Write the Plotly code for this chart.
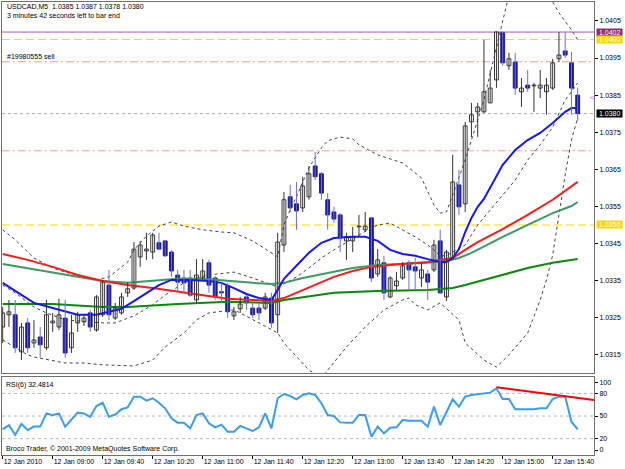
import plotly.graph_objects as go

# ---------------- data ----------------
tick_bars = [0, 8, 16, 24, 32, 40, 48, 56, 64, 72, 80, 88]
tick_labels = ["12 Jan 2010", "12 Jan 09:00", "12 Jan 09:40", "12 Jan 10:20", "12 Jan 11:00",
               "12 Jan 11:40", "12 Jan 12:20", "12 Jan 13:00", "12 Jan 13:40", "12 Jan 14:20",
               "12 Jan 15:00", "12 Jan 15:40"]

opens = [1.03225, 1.03258, 1.03258, 1.03158, 1.03236, 1.03182, 1.03198, 1.03169, 1.03236, 1.03225,
         1.03249, 1.03169, 1.03236, 1.03239, 1.03263, 1.03217, 1.03258, 1.03338, 1.03249, 1.03263,
         1.03317, 1.03330, 1.03414, 1.03430, 1.03427, 1.03452, 1.03457, 1.03427, 1.03365, 1.03357,
         1.03357, 1.03298, 1.03357, 1.03398, 1.03357, 1.03320, 1.03336, 1.03255, 1.03274, 1.03306,
         1.03276, 1.03276, 1.03276, 1.03303, 1.03258, 1.03446, 1.03576, 1.03557, 1.03546, 1.03576,
         1.03659, 1.03638, 1.03568, 1.03535, 1.03527, 1.03457, 1.03457, 1.03495, 1.03487, 1.03519,
         1.03368, 1.03398, 1.03306, 1.03336, 1.03357, 1.03398, 1.03387, 1.03357, 1.03368, 1.03379,
         1.03457, 1.03306, 1.03411, 1.03608, 1.03557, 1.03778, 1.03805, 1.03805, 1.03829, 1.03891,
         1.04018, 1.03929, 1.03939, 1.03859, 1.03877, 1.03875, 1.03869, 1.03859, 1.03869, 1.03948,
         1.03969, 1.03937, 1.03850]
highs = [1.03279, 1.03298, 1.03298, 1.03236, 1.03249, 1.03244, 1.03225, 1.03298, 1.03263, 1.03301,
         1.03298, 1.03258, 1.03266, 1.03258, 1.03271, 1.03311, 1.03352, 1.03379, 1.03290, 1.03317,
         1.03346, 1.03454, 1.03457, 1.03479, 1.03479, 1.03479, 1.03460, 1.03433, 1.03379, 1.03379,
         1.03379, 1.03408, 1.03408, 1.03406, 1.03362, 1.03344, 1.03344, 1.03279, 1.03306, 1.03311,
         1.03290, 1.03290, 1.03317, 1.03317, 1.03479, 1.03589, 1.03608, 1.03616, 1.03630, 1.03659,
         1.03697, 1.03643, 1.03586, 1.03549, 1.03532, 1.03479, 1.03495, 1.03527, 1.03535, 1.03522,
         1.03435, 1.03417, 1.03362, 1.03373, 1.03400, 1.03406, 1.03411, 1.03398, 1.03379, 1.03460,
         1.03487, 1.03433, 1.03689, 1.03648, 1.03778, 1.03829, 1.03829, 1.03999, 1.03918, 1.04022,
         1.04022, 1.03964, 1.03964, 1.03896, 1.03918, 1.03883, 1.03918, 1.03896, 1.03948, 1.04020,
         1.04018, 1.03966, 1.03870]
lows = [1.03182, 1.03225, 1.03155, 1.03136, 1.03155, 1.03169, 1.03142, 1.03163, 1.03212, 1.03217,
        1.03142, 1.03155, 1.03212, 1.03228, 1.03212, 1.03212, 1.03252, 1.03244, 1.03244, 1.03258,
        1.03306, 1.03325, 1.03387, 1.03406, 1.03408, 1.03433, 1.03414, 1.03360, 1.03320, 1.03320,
        1.03306, 1.03290, 1.03352, 1.03317, 1.03298, 1.03290, 1.03249, 1.03244, 1.03263, 1.03271,
        1.03249, 1.03244, 1.03271, 1.03223, 1.03209, 1.03427, 1.03535, 1.03487, 1.03535, 1.03568,
        1.03621, 1.03568, 1.03487, 1.03506, 1.03427, 1.03406, 1.03427, 1.03468, 1.03481, 1.03346,
        1.03360, 1.03298, 1.03303, 1.03325, 1.03352, 1.03325, 1.03325, 1.03333, 1.03298, 1.03373,
        1.03314, 1.03295, 1.03406, 1.03527, 1.03535, 1.03737, 1.03737, 1.03802, 1.03829, 1.03869,
        1.03929, 1.03918, 1.03851, 1.03818, 1.03859, 1.03805, 1.03842, 1.03797, 1.03864, 1.03939,
        1.03950, 1.03797, 1.03780]
closes = [1.03263, 1.03266, 1.03169, 1.03225, 1.03169, 1.03190, 1.03177, 1.03258, 1.03241, 1.03258,
          1.03155, 1.03209, 1.03258, 1.03249, 1.03225, 1.03306, 1.03346, 1.03258, 1.03276, 1.03306,
          1.03328, 1.03435, 1.03446, 1.03435, 1.03473, 1.03435, 1.03417, 1.03376, 1.03346, 1.03344,
          1.03311, 1.03365, 1.03376, 1.03338, 1.03306, 1.03317, 1.03266, 1.03266, 1.03287, 1.03290,
          1.03258, 1.03263, 1.03306, 1.03236, 1.03454, 1.03568, 1.03546, 1.03538, 1.03605, 1.03638,
          1.03630, 1.03586, 1.03527, 1.03516, 1.03465, 1.03468, 1.03468, 1.03497, 1.03497, 1.03357,
          1.03406, 1.03317, 1.03357, 1.03349, 1.03390, 1.03379, 1.03376, 1.03379, 1.03346, 1.03446,
          1.03317, 1.03427, 1.03616, 1.03549, 1.03767, 1.03797, 1.03818, 1.03859, 1.03869, 1.04020,
          1.03937, 1.03948, 1.03869, 1.03869, 1.03869, 1.03877, 1.03877, 1.03877, 1.03937, 1.03958,
          1.03958, 1.03869, 1.03800]

# moving averages (bar index, price)
blue_k = [0, 2, 5, 8, 10, 12, 15, 17, 19, 21, 23, 25, 27, 30, 33, 35, 37, 39, 41, 43, 44, 45, 47, 49, 51,
          53, 56, 58, 60, 62, 64, 66, 68, 70, 71, 72, 73, 74, 75, 76, 77, 80, 82, 84, 86, 88, 90, 91, 92]
blue_v = [1.03344, 1.03322, 1.03290, 1.03276, 1.03266, 1.03258, 1.03258, 1.03266, 1.03274, 1.03295,
          1.03317, 1.03338, 1.03352, 1.03352, 1.03349, 1.03344, 1.03330, 1.03314, 1.03303, 1.03298,
          1.03325, 1.03355, 1.03390, 1.03425, 1.03452, 1.03465, 1.03468, 1.03468, 1.03457, 1.03433,
          1.03422, 1.03417, 1.03408, 1.03400, 1.03400, 1.03411, 1.03435, 1.03481, 1.03519, 1.03549,
          1.03570, 1.03662, 1.03702, 1.03729, 1.03748, 1.03775, 1.03805, 1.03815, 1.03815]
red_k = [0, 4, 8, 12, 16, 20, 24, 28, 32, 36, 40, 43, 45, 48, 51, 53, 56, 59, 62, 65, 68, 71, 72, 74, 76,
         80, 84, 88, 91, 92]
red_v = [1.03422, 1.03406, 1.03387, 1.03365, 1.03349, 1.03338, 1.03330, 1.03320, 1.03311, 1.03301,
         1.03298, 1.03295, 1.03303, 1.03325, 1.03346, 1.03360, 1.03376, 1.03387, 1.03392, 1.03395,
         1.03400, 1.03408, 1.03411, 1.03433, 1.03454, 1.03489, 1.03527, 1.03568, 1.03603, 1.03616]
sg_k = [0, 4, 8, 12, 16, 20, 24, 28, 32, 36, 40, 43, 45, 48, 52, 56, 60, 64, 68, 71, 73, 75, 78, 80, 84,
        88, 91, 92]
sg_v = [1.03395, 1.03384, 1.03371, 1.03360, 1.03349, 1.03344, 1.03349, 1.03355, 1.03355, 1.03349,
        1.03344, 1.03341, 1.03344, 1.03357, 1.03371, 1.03384, 1.03392, 1.03395, 1.03398, 1.03403,
        1.03411, 1.03425, 1.03452, 1.03468, 1.03500, 1.03532, 1.03551, 1.03562]
dg_k = [0, 8, 16, 20, 28, 36, 43, 45, 53, 60, 68, 72, 74, 80, 84, 88, 92]
dg_v = [1.03287, 1.03287, 1.03279, 1.03279, 1.03287, 1.03293, 1.03290, 1.03298, 1.03317, 1.03322,
        1.03325, 1.03330, 1.03338, 1.03365, 1.03384, 1.03398, 1.03408]

# Bollinger bands (bar index, price)
bbu_k = [0, 2, 5, 8, 10, 13, 15, 17, 20, 21, 23, 25, 27, 29, 32, 35, 37, 40, 42, 44, 45, 46, 47, 49,
         51, 52, 54, 56, 57, 60, 62, 64, 67, 69, 70, 71, 72, 73, 74, 77, 79, 81, 84, 86, 88, 89, 91, 92]
bbu_v = [1.03487, 1.03460, 1.03411, 1.03384, 1.03373, 1.03360, 1.03352, 1.03360, 1.03400, 1.03433,
         1.03470, 1.03497, 1.03508, 1.03497, 1.03487, 1.03481, 1.03479, 1.03457, 1.03435, 1.03414,
         1.03500, 1.03541, 1.03576, 1.03654, 1.03708, 1.03727, 1.03737, 1.03732, 1.03716, 1.03689,
         1.03678, 1.03667, 1.03627, 1.03554, 1.03532, 1.03535, 1.03581, 1.03627, 1.03675, 1.03837,
         1.03980, 1.04120, 1.04147, 1.04147, 1.04101, 1.04072, 1.04026, 1.03999]
bbm_k = [0, 2, 5, 7, 10, 13, 16, 18, 21, 24, 26, 29, 31, 33, 37, 40, 42, 44, 45, 47, 49, 51, 53, 55,
         57, 59, 60, 62, 64, 66, 68, 69, 70, 71, 72, 74, 76, 78, 80, 82, 84, 86, 88, 90, 91, 92]
bbm_v = [1.03338, 1.03317, 1.03279, 1.03263, 1.03244, 1.03239, 1.03236, 1.03236, 1.03255, 1.03285,
         1.03311, 1.03344, 1.03357, 1.03365, 1.03373, 1.03357, 1.03344, 1.03333, 1.03341, 1.03360,
         1.03384, 1.03411, 1.03433, 1.03454, 1.03473, 1.03492, 1.03500, 1.03505, 1.03487, 1.03468,
         1.03446, 1.03433, 1.03417, 1.03417, 1.03427, 1.03446, 1.03500, 1.03541, 1.03581, 1.03621,
         1.03675, 1.03716, 1.03764, 1.03837, 1.03859, 1.03883]
bbl_k = [0, 2, 4, 5, 10, 13, 16, 21, 24, 26, 29, 31, 33, 37, 38, 41, 44, 45, 47, 49, 51, 52, 55, 58,
         61, 64, 65, 66, 68, 70, 73, 74, 77, 79, 81, 84, 86, 87, 88, 89, 90, 91, 92]
bbl_v = [1.03190, 1.03171, 1.03150, 1.03144, 1.03128, 1.03128, 1.03123, 1.03120, 1.03136, 1.03171,
         1.03209, 1.03244, 1.03263, 1.03271, 1.03263, 1.03236, 1.03209, 1.03182, 1.03144, 1.03109,
         1.03088, 1.03109, 1.03171, 1.03225, 1.03271, 1.03298, 1.03303, 1.03285, 1.03271, 1.03290,
         1.03244, 1.03182, 1.03136, 1.03117, 1.03150, 1.03209, 1.03298, 1.03352, 1.03419, 1.03527,
         1.03635, 1.03729, 1.03789]

# RSI(6)
rsi = [32.4, 38, 25, 39.5, 31.5, 36, 36, 53.5, 51, 53.5,
       36, 45.6, 54.5, 53.5, 49, 63.3, 67.7, 49, 52, 59,
       61.5, 75.7, 75.7, 70.4, 73.5, 67.7, 60.2, 47, 41.2, 41.2,
       33.7, 51.4, 53.5, 40.3, 35, 38.6, 29.3, 29.3, 36.8, 33.7,
       30.2, 35, 53.5, 33.7, 73.5, 79.2, 76.5, 72.1, 77.9, 80.1,
       77.9, 66.8, 51.4, 50, 41.6, 41.2, 41.2, 51.4, 51.4, 22.7,
       35.9, 27.1, 34.6, 35, 44.7, 43.8, 43.8, 43.8, 35.9, 62.4,
       38.2, 55.8, 72.1, 62.4, 75.7, 77.9, 78.8, 80.1, 81, 86.7,
       72.6, 72.6, 58.9, 58.9, 58.9, 58.9, 60.2, 60.2, 72.6, 75.7,
       75.7, 42.5, 32.48]
rsi_levels = [20, 50, 80]
rsi_trend_k = [79, 94.6]
rsi_trend_v = [88, 71.3]

# horizontal price levels
level_high = 1.0402
level_gold = [1.0400, 1.0350]
level_order = [1.0394, 1.0370]
bid_price = 1.0380

price_ticks = [1.0315, 1.0325, 1.0335, 1.0345, 1.0355, 1.0365, 1.0375, 1.0385, 1.0395, 1.0405]
price_tick_text = ["1.0315", "1.0325", "1.0335", "1.0345", "1.0355", "1.0365", "1.0375",
                   "1.0385", "1.0395", "1.0405"]
rsi_tick_vals = [5, 20, 50, 80, 94]
rsi_tick_text = ["0", "20", "50", "80", "100"]

# ---------------- figure ----------------
FONT = "Liberation Sans"
bars = list(range(len(opens)))
bull = [k for k in bars if closes[k] >= opens[k]]
bear = [k for k in bars if closes[k] < opens[k]]


def wick_xy(idx):
    xs, ys = [], []
    for k in idx:
        xs += [k, k, None]
        ys += [lows[k], highs[k], None]
    return xs, ys


fig = go.Figure()

# Bollinger dotted lines
for kk, vv in ((bbu_k, bbu_v), (bbm_k, bbm_v), (bbl_k, bbl_v)):
    fig.add_trace(go.Scatter(x=kk, y=vv, mode="lines", xaxis="x", yaxis="y",
                             line=dict(color="#444444", width=1, dash="dot"), hoverinfo="skip"))

# moving averages
fig.add_trace(go.Scatter(x=dg_k, y=dg_v, mode="lines", line=dict(color="#0a8a0a", width=2)))
fig.add_trace(go.Scatter(x=sg_k, y=sg_v, mode="lines", line=dict(color="#3c9a62", width=2)))
fig.add_trace(go.Scatter(x=red_k, y=red_v, mode="lines", line=dict(color="#ff1a1a", width=2)))
fig.add_trace(go.Scatter(x=blue_k, y=blue_v, mode="lines", line=dict(color="#1515ff", width=2)))

# wicks
wx, wy = wick_xy(bull)
fig.add_trace(go.Scatter(x=wx, y=wy, mode="lines", line=dict(color="#333333", width=1)))
wx, wy = wick_xy(bear)
fig.add_trace(go.Scatter(x=wx, y=wy, mode="lines", line=dict(color="#6f6fd8", width=1)))

# bodies
fig.add_trace(go.Bar(x=bull, base=[opens[k] for k in bull],
                     y=[closes[k] - opens[k] for k in bull], width=0.62,
                     marker=dict(color="#ffffff", line=dict(color="#3a3a3a", width=1))))
fig.add_trace(go.Bar(x=bear, base=[opens[k] for k in bear],
                     y=[closes[k] - opens[k] for k in bear], width=0.62,
                     marker=dict(color="#1c1c96", line=dict(color="#1c1c96", width=1))))

# RSI
fig.add_trace(go.Scatter(x=bars, y=rsi, mode="lines", xaxis="x2", yaxis="y2",
                         line=dict(color="#3b9cf0", width=2)))
fig.add_trace(go.Scatter(x=rsi_trend_k, y=rsi_trend_v, mode="lines", xaxis="x2", yaxis="y2",
                         line=dict(color="#ff0000", width=2)))

shapes = []
XD = [2 / 625, 594 / 625]
shapes.append(dict(type="line", xref="paper", x0=XD[0], x1=XD[1], yref="y",
                   y0=level_high, y1=level_high, line=dict(color="#a05ab0", width=1)))
for lv in level_gold:
    shapes.append(dict(type="line", xref="paper", x0=XD[0], x1=XD[1], yref="y", y0=lv, y1=lv,
                       line=dict(color="#ffd700", width=1, dash="8px,4px")))
for lv in level_order:
    shapes.append(dict(type="line", xref="paper", x0=XD[0], x1=XD[1], yref="y", y0=lv, y1=lv,
                       line=dict(color="#ff9f80", width=1, dash="8px,3px,2px,3px")))
shapes.append(dict(type="line", xref="paper", x0=XD[0], x1=XD[1], yref="y", y0=bid_price,
                   y1=bid_price, line=dict(color="#a8a8a8", width=1, dash="dot")))
for lv in rsi_levels:
    shapes.append(dict(type="line", xref="paper", x0=XD[0], x1=XD[1], yref="y2", y0=lv, y1=lv,
                       line=dict(color="#b8b8b8", width=1, dash="dot")))
# draw levels below data
for s in shapes:
    s["layer"] = "below"

f = dict(family=FONT, size=7, color="#000000")
ann = []
ann.append(dict(xref="paper", yref="paper", x=5 / 625, y=1 - 6.7 / 469, xanchor="left",
                yanchor="middle", showarrow=False, font=f,
                text="USDCAD,M5\u00a0\u00a01.0385 1.0387 1.0378 1.0380"))
ann.append(dict(xref="paper", yref="paper", x=5 / 625, y=1 - 15.7 / 469, xanchor="left",
                yanchor="middle", showarrow=False, font=f,
                text="3 minutes 42 seconds left to bar end"))
ann.append(dict(xref="paper", yref="y", x=5 / 625, y=level_order[0], xanchor="left",
                yanchor="bottom", showarrow=False, font=f, text="#19980555 sell"))
ann.append(dict(xref="paper", yref="paper", x=4 / 625, y=1 - 385 / 469, xanchor="left",
                yanchor="middle", showarrow=False, font=f, text="RSI(6) 32.4814"))
ann.append(dict(xref="paper", yref="paper", x=4 / 625, y=1 - 449 / 469, xanchor="left",
                yanchor="middle", showarrow=False, font=f,
                text="Broco Trader, © 2001-2009 MetaQuotes Software Corp."))
# price boxes on the scale
for val, bg in ((level_high, "#8e2a6e"), (level_gold[0], "#ffd700"), (bid_price, "#000000"),
                (level_gold[1], "#ffd700")):
    ann.append(dict(xref="paper", yref="y", x=595.5 / 625, y=val, xanchor="left",
                    yanchor="middle", showarrow=False, bgcolor=bg, borderpad=0,
                    font=dict(family=FONT, size=7, color="#ffffff"),
                    text="\u00a0%.4f\u00a0" % val))
ann.append(dict(xref="paper", yref="y", x=592 / 625, y=1.03843, xanchor="center",
                yanchor="middle", showarrow=False,
                font=dict(family=FONT, size=8, color="#ff55dd"), text="&lt;"))

axis_common = dict(showgrid=False, zeroline=False, showline=True, mirror=True,
                   linecolor="#707070", linewidth=1)
fig.update_layout(
    width=625, height=469, margin=dict(l=0, r=0, t=0, b=0, pad=0),
    paper_bgcolor="#ffffff", plot_bgcolor="#ffffff", showlegend=False,
    barmode="overlay", font=f,
    xaxis=dict(domain=XD, range=[-0.11, 94.61], anchor="y", showticklabels=False,
               ticks="", **axis_common),
    yaxis=dict(domain=[1 - 373 / 469, 1 - 2 / 469], range=[1.03101, 1.04101], anchor="x",
               side="right", tickvals=price_ticks, ticktext=price_tick_text, ticks="outside",
               ticklen=3, tickcolor="#000000", tickfont=f, **axis_common),
    xaxis2=dict(domain=XD, range=[-0.11, 94.61], anchor="y2", tickvals=tick_bars,
                ticktext=tick_labels, ticks="outside", ticklen=3, tickcolor="#000000",
                ticklabelposition="outside right", tickfont=f, **axis_common),
    yaxis2=dict(domain=[1 - 455 / 469, 1 - 377 / 469], range=[-1.6, 101.7], anchor="x2",
                side="right", tickvals=rsi_tick_vals, ticktext=rsi_tick_text, ticks="outside",
                ticklen=3, tickcolor="#000000", tickfont=f, **axis_common),
    shapes=shapes, annotations=ann,
)

fig.write_html("out.html")
